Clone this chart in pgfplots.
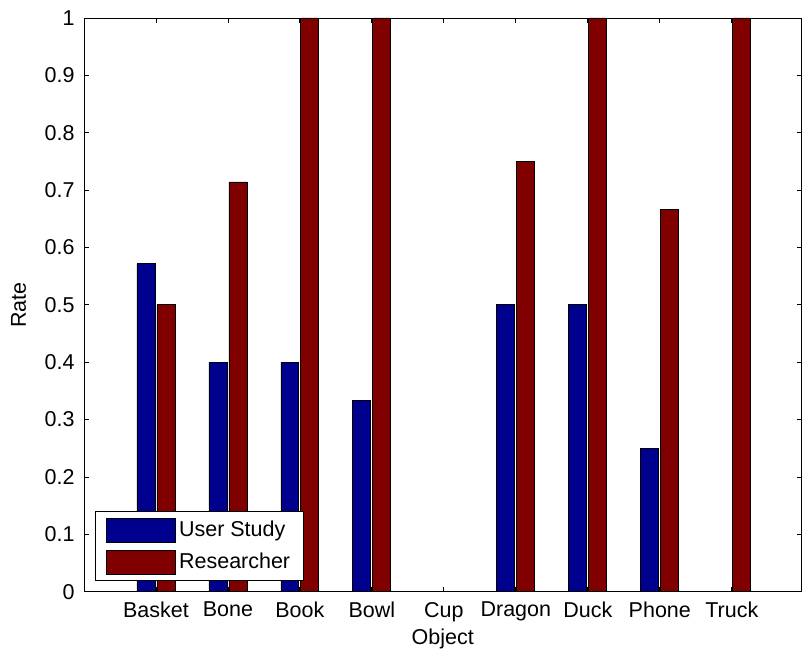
\documentclass[border=0pt]{standalone}
\usepackage{pgfplots}
\pgfplotsset{compat=1.18}
\usepackage{fontspec}
\setmainfont{Liberation Sans}
\definecolor{mblue}{RGB}{0,0,143}
\definecolor{mred}{RGB}{128,0,0}
\begin{document}
\fontsize{21.5}{25}\selectfont
\begin{tikzpicture}
\begin{axis}[
  at={(0,0)}, anchor=south west,
  scale only axis,
  width=718pt, height=574pt,
  xmin=0, xmax=9.97, ymin=0, ymax=1,
  ybar=2pt, bar width=18pt,
  axis on top,
  xtick={1,2,3,4,5,6,7,8,9},
  xticklabels={Basket,Bone,Book,Bowl,Cup,Dragon,Duck,Phone,Truck},
  ytick={0,0.1,0.2,0.3,0.4,0.5,0.6,0.7,0.8,0.9,1},
  yticklabels={0,0.1,0.2,0.3,0.4,0.5,0.6,0.7,0.8,0.9,1},
  tick align=inside,
  major tick length=5pt,
  tick style={black, line width=0.8pt},
  axis line style={black, line width=0.8pt},
  tick label style={font=\fontsize{21.5}{25}\selectfont},
  xticklabel style={yshift=-3pt},
  yticklabel style={xshift=-2pt},
  xlabel={Object}, ylabel={Rate},
  label style={font=\fontsize{21.5}{25}\selectfont},
  xlabel style={yshift=7pt},
  ylabel style={yshift=4pt},
  legend style={at={(0.0153,0.019)}, anchor=south west, draw=black, line width=0.8pt,
    font=\fontsize{21.5}{25}\selectfont, inner xsep=11pt, inner ysep=6pt,
    nodes={inner sep=2pt}, row sep=7pt,
    /tikz/every odd column/.append style={column sep=1pt}},
  legend cell align=left,
  legend image code/.code={\draw[#1, line width=0.8pt] (0pt,-12pt) rectangle (69pt,12pt);},
]
\addplot[fill=mblue, draw=black, line width=0.8pt] coordinates {(1,0.5714) (2,0.4) (3,0.4) (4,0.3333) (5,0) (6,0.5) (7,0.5) (8,0.25) (9,0)};
\addplot[fill=mred, draw=black, line width=0.8pt] coordinates {(1,0.5) (2,0.7143) (3,1) (4,1) (5,0) (6,0.75) (7,1) (8,0.6667) (9,1)};
\legend{User Study, Researcher}
\end{axis}
\useasboundingbox (-84pt,-57pt) rectangle (718pt,592pt);
\end{tikzpicture}
\end{document}
